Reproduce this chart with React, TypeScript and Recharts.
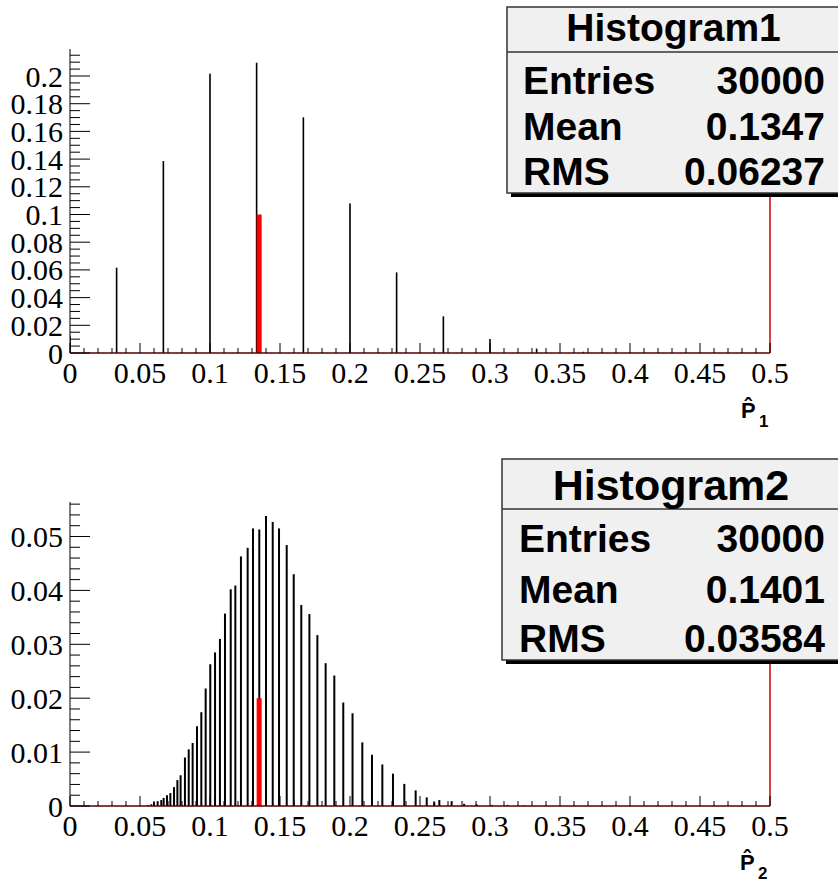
import React from "react";
import {
  ComposedChart,
  Bar,
  XAxis,
  YAxis,
  ReferenceLine,
} from "recharts";

// ---- data ----
// Histogram1: p-hat_1 values (k/30) and their fractions
const p1Bins = [0, 0.0333, 0.0667, 0.1, 0.1333, 0.1667, 0.2, 0.2333, 0.2667, 0.3, 0.3333, 0.3667, 0.4];
const p1Freq = [0.0125, 0.0616, 0.1386, 0.2017, 0.2096, 0.1702, 0.108, 0.0582, 0.0265, 0.0101, 0.0032, 0.0009, 0.0002];

// Histogram2: p-hat_2 values and their fractions
const p2Bins = [
  0.0555, 0.058, 0.06, 0.0626, 0.0652, 0.0669, 0.0693, 0.0717, 0.0743, 0.0767,
  0.079, 0.0821, 0.0848, 0.0876, 0.0907, 0.0938, 0.0969, 0.1002, 0.1036, 0.1071,
  0.1107, 0.1148, 0.1181, 0.1221, 0.1269, 0.1307, 0.1352, 0.14, 0.1448, 0.1493,
  0.1548, 0.1598, 0.1652, 0.171, 0.1767, 0.1826, 0.1888, 0.1952, 0.2018, 0.2088,
  0.2157, 0.2231, 0.2307, 0.2388, 0.2469, 0.2548, 0.2602, 0.2638, 0.2726, 0.2815,
  0.2905, 0.3012, 0.3125, 0.3245,
];
const p2Freq = [
  0.0002, 0.0003, 0.0007, 0.0009, 0.0011, 0.0015, 0.002, 0.0024, 0.0035, 0.0048,
  0.0057, 0.009, 0.0105, 0.0117, 0.0148, 0.0174, 0.0218, 0.0263, 0.0285, 0.031,
  0.0357, 0.0402, 0.0409, 0.0463, 0.0479, 0.0515, 0.0513, 0.0538, 0.0527, 0.0515,
  0.0484, 0.043, 0.0373, 0.0356, 0.0317, 0.0265, 0.0242, 0.0192, 0.0172, 0.0118,
  0.0095, 0.0077, 0.006, 0.0041, 0.0029, 0.0016, 0.0007, 0.0011, 0.0009, 0.0004,
  0.0003, 0.0002, 0.0002, 0.0001,
];

// red marker bin (true value)
const redBin = 0.1351;
const redTop = 0.1;
const redBottom = 0.02;

// axis ticks
const xMajor = [0, 0.05, 0.1, 0.15, 0.2, 0.25, 0.3, 0.35, 0.4, 0.45, 0.5];
const xMajorLabels = ["0", "0.05", "0.1", "0.15", "0.2", "0.25", "0.3", "0.35", "0.4", "0.45", "0.5"];
const y1Major = [0, 0.02, 0.04, 0.06, 0.08, 0.1, 0.12, 0.14, 0.16, 0.18, 0.2];
const y1MajorLabels = ["0", "0.02", "0.04", "0.06", "0.08", "0.1", "0.12", "0.14", "0.16", "0.18", "0.2"];
const y2Major = [0, 0.01, 0.02, 0.03, 0.04, 0.05];
const y2MajorLabels = ["0", "0.01", "0.02", "0.03", "0.04", "0.05"];

const y1Max = 0.2195;
const y2Max = 0.0564;

const serif = "'Liberation Serif', 'Times New Roman', serif";
const sans = "'Liberation Sans', Arial, Helvetica, sans-serif";

// minor tick positions (axis decoration only)
function steps(step: number, max: number) {
  const out: number[] = [];
  for (let i = 0; i * step <= max + 1e-9; i++) out.push(Math.round(i * step * 10000) / 10000);
  return out;
}

function findMajor(majors: number[], v: number) {
  return majors.findIndex((m) => Math.abs(m - v) < 1e-7);
}

// ROOT style: ticks point inwards, labels outside
const makeXTick = (majors: number[], labels: string[]) => (props: any) => {
  const { x, y, payload } = props;
  const i = findMajor(majors, payload.value);
  const major = i >= 0;
  return (
    <g>
      <line x1={x} x2={x} y1={y} y2={y - (major ? 10 : 5)} stroke="#000" strokeWidth={1} />
      {major && (
        <text x={x} y={y + 30} textAnchor="middle" fontFamily={serif} fontSize={30} fill="#000">
          {labels[i]}
        </text>
      )}
    </g>
  );
};

const makeYTick = (majors: number[], labels: string[]) => (props: any) => {
  const { x, y, payload } = props;
  const i = findMajor(majors, payload.value);
  const major = i >= 0;
  return (
    <g>
      <line x1={x} x2={x + (major ? 20 : 10)} y1={y} y2={y} stroke="#000" strokeWidth={1} />
      {major && (
        <text x={x - 7} y={y} textAnchor="end" dominantBaseline="central" fontFamily={serif} fontSize={30} fill="#000">
          {labels[i]}
        </text>
      )}
    </g>
  );
};

// thin bar of fixed width, centred on the bin value
const lineBar = (w: number, color: string) => (props: any) => {
  const { x, y, width, height } = props;
  if (!height || height <= 0) return <g />;
  return <rect x={x + width / 2 - w / 2} y={y} width={w} height={height} fill={color} />;
};

interface PanelProps {
  bins: number[];
  freq: number[];
  red: number;
  barW: number;
  height: number;
  top: number;
  xAxisHeight: number;
  yMax: number;
  yMajor: number[];
  yLabels: string[];
  yMinorStep: number;
}

function HistPanel({ bins, freq, red, barW, height, top, xAxisHeight, yMax, yMajor, yLabels, yMinorStep }: PanelProps) {
  const rows: any[] = bins.map((x, i) => ({ x, freq: freq[i] }));
  // the red histogram: one filled bin
  rows.push({ x: redBin, red });

  const xTicks = steps(0.01, 0.5);
  const yTicks = steps(yMinorStep, yMax);

  return (
    <ComposedChart width={838} height={height} data={rows} margin={{ top, right: 68, bottom: 0, left: 0 }}>
      <XAxis
        xAxisId="main"
        dataKey="x"
        type="number"
        domain={[0, 0.5]}
        allowDataOverflow
        ticks={xTicks}
        interval={0}
        tickSize={0}
        tickMargin={0}
        tickLine={false}
        tick={makeXTick(xMajor, xMajorLabels)}
        axisLine={{ stroke: "#000" }}
        height={xAxisHeight}
      />
      <XAxis
        xAxisId="top"
        orientation="top"
        dataKey="x"
        type="number"
        domain={[0, 0.5]}
        allowDataOverflow
        tick={false}
        tickLine={false}
        axisLine={{ stroke: "#000" }}
        height={0}
      />
      <YAxis
        type="number"
        domain={[0, yMax]}
        allowDataOverflow
        ticks={yTicks}
        interval={0}
        tickSize={0}
        tickMargin={0}
        tickLine={false}
        tick={makeYTick(yMajor, yLabels)}
        axisLine={{ stroke: "#000" }}
        width={70}
      />
      <Bar xAxisId="main" dataKey="freq" fill="#000" shape={lineBar(barW, "#000")} isAnimationActive={false} />
      <Bar xAxisId="top" dataKey="red" fill="#ff0000" shape={lineBar(5, "#ff0000")} isAnimationActive={false} />
      <ReferenceLine xAxisId="main" y={0} stroke="#ff0000" strokeWidth={1} />
      <ReferenceLine xAxisId="main" x={0.5} stroke="#cc0000" strokeWidth={1.5} />
    </ComposedChart>
  );
}

function StatBox({ x, y, w, h, divider, title, titleSize, titleBase, textLeft, valueRight, rows }: any) {
  return (
    <g>
      <rect x={x + 4} y={y + 4} width={w} height={h} fill="#000" />
      <rect x={x} y={y} width={w} height={h} fill="#f0f0f0" stroke="#333" strokeWidth={1.5} />
      <line x1={x} x2={x + w} y1={divider} y2={divider} stroke="#333" strokeWidth={1.5} />
      <text x={x + (valueRight + 15 - x) / 2} y={titleBase} textAnchor="middle" fontFamily={sans} fontWeight="bold" fontSize={titleSize}>
        {title}
      </text>
      {rows.map((r: any) => (
        <g key={r.label}>
          <text x={textLeft} y={r.base} fontFamily={sans} fontWeight="bold" fontSize={39}>
            {r.label}
          </text>
          <text x={valueRight} y={r.base} textAnchor="end" fontFamily={sans} fontWeight="bold" fontSize={39}>
            {r.value}
          </text>
        </g>
      ))}
    </g>
  );
}

export default function App() {
  return (
    <div style={{ position: "absolute", left: 0, top: 0, width: 838, height: 884, overflow: "hidden", background: "#fff" }}>
      <div style={{ position: "absolute", left: 0, top: 0 }}>
        <HistPanel
          bins={p1Bins}
          freq={p1Freq}
          red={redTop}
          barW={1.6}
          height={440}
          top={49}
          xAxisHeight={87}
          yMax={y1Max}
          yMajor={y1Major}
          yLabels={y1MajorLabels}
          yMinorStep={0.005}
        />
      </div>
      <div style={{ position: "absolute", left: 0, top: 440 }}>
        <HistPanel
          bins={p2Bins}
          freq={p2Freq}
          red={redBottom}
          barW={2}
          height={444}
          top={62}
          xAxisHeight={78}
          yMax={y2Max}
          yMajor={y2Major}
          yLabels={y2MajorLabels}
          yMinorStep={0.002}
        />
      </div>
      <svg width={838} height={884} style={{ position: "absolute", left: 0, top: 0, pointerEvents: "none" }}>
        <StatBox
          x={507}
          y={7}
          w={333}
          h={186}
          divider={52}
          title="Histogram1"
          titleSize={39}
          titleBase={41}
          textLeft={523}
          valueRight={825}
          rows={[
            { label: "Entries", value: "30000", base: 94 },
            { label: "Mean", value: "0.1347", base: 140 },
            { label: "RMS", value: "0.06237", base: 185 },
          ]}
        />
        <StatBox
          x={502}
          y={459}
          w={338}
          h={201}
          divider={509}
          title="Histogram2"
          titleSize={43}
          titleBase={500}
          textLeft={519}
          valueRight={825}
          rows={[
            { label: "Entries", value: "30000", base: 552 },
            { label: "Mean", value: "0.1401", base: 603 },
            { label: "RMS", value: "0.03584", base: 652 },
          ]}
        />
        <text x={741} y={418} fontFamily={sans} fontWeight="bold" fontSize={22}>
          {"P\u0302"}
        </text>
        <text x={759} y={427} fontFamily={sans} fontWeight="bold" fontSize={17}>
          1
        </text>
        <text x={740} y={870} fontFamily={sans} fontWeight="bold" fontSize={22}>
          {"P\u0302"}
        </text>
        <text x={758} y={879} fontFamily={sans} fontWeight="bold" fontSize={17}>
          2
        </text>
      </svg>
    </div>
  );
}
